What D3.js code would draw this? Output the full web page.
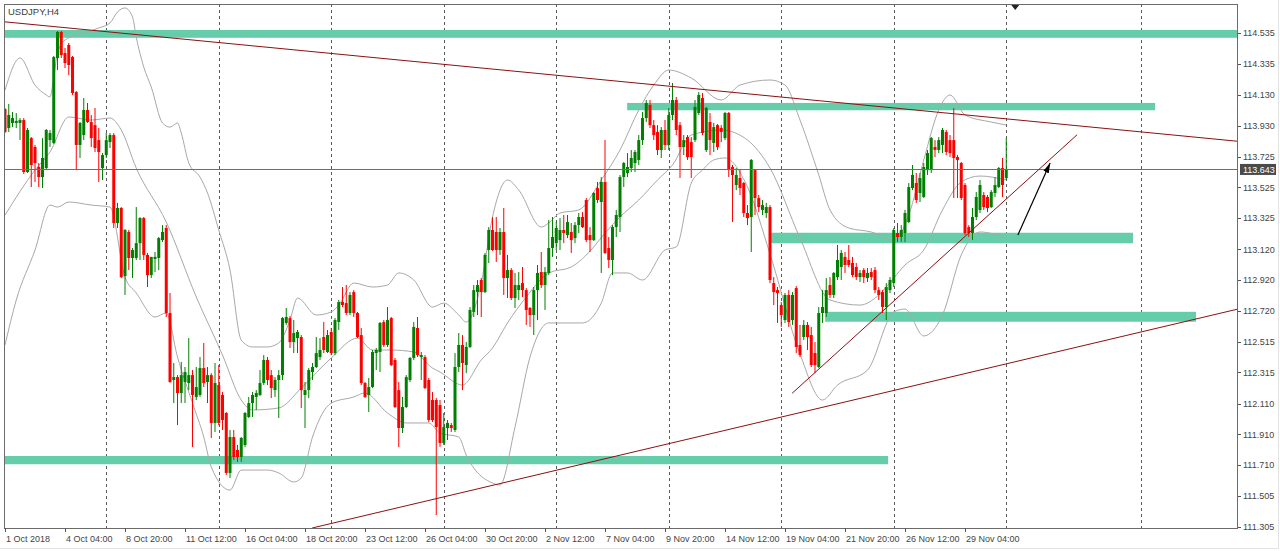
<!DOCTYPE html>
<html><head><meta charset="utf-8">
<script src="https://cdn.jsdelivr.net/npm/d3@7"></script>
<style>
html,body{margin:0;padding:0;background:#fff;}
svg{display:block;}
text{font-family:"Liberation Sans",Arial,sans-serif;}
</style></head><body>
<svg id="chart" width="1280" height="551"></svg>
<script>
// ---------------- DATA ----------------
const chartTitle = "USDJPY,H4";
// H4 bars, [open, high, low, close]
const ohlc = [
[114.038,114.045,113.881,113.888],[113.914,114.071,113.888,113.999],[113.947,114.019,113.920,113.979],[113.947,114.012,113.914,113.960],
[113.947,113.979,113.835,113.966],[113.966,113.979,113.613,113.626],[113.626,113.914,113.620,113.901],[113.848,113.855,113.528,113.672],
[113.790,113.803,113.561,113.685],[113.659,113.685,113.528,113.593],[113.593,113.848,113.521,113.718],[113.652,113.907,113.639,113.901],
[113.835,113.901,113.790,113.881],[113.816,114.385,113.810,114.378],[114.372,114.548,114.293,114.542],[114.542,114.548,114.372,114.391],
[114.404,114.437,114.306,114.339],[114.457,114.470,114.260,114.326],[114.378,114.385,114.130,114.143],[114.149,114.156,113.639,113.803],
[113.803,113.953,113.718,113.947],[113.868,114.110,113.835,114.032],[114.032,114.078,113.947,113.953],[113.953,113.999,113.790,113.848],
[113.933,114.045,113.757,113.783],[113.835,113.914,113.561,113.757],[113.652,113.750,113.574,113.737],[113.737,113.881,113.718,113.835],
[113.822,113.881,113.783,113.868],[113.868,113.881,113.260,113.293],[113.293,113.424,113.260,113.391],[113.391,113.397,112.932,112.939],
[112.946,113.253,112.822,113.247],[113.234,113.247,112.985,113.064],[113.064,113.129,112.933,113.116],[113.064,113.397,113.051,113.161],
[113.161,113.331,113.051,113.325],[113.325,113.332,113.051,113.084],[113.084,113.097,112.874,112.952],[112.952,113.071,112.933,113.071],
[113.058,113.103,112.972,113.071],[113.064,113.201,112.985,113.194],[113.181,113.279,113.168,113.234],[113.260,113.279,112.678,112.704],
[112.704,112.835,112.247,112.253],[112.266,112.377,112.115,112.285],[112.285,112.298,111.971,112.181],[112.181,112.384,112.115,112.298],
[112.253,112.351,112.115,112.318],[112.246,112.540,112.200,112.298],[112.298,112.331,111.828,112.168],[112.155,112.351,112.135,112.220],
[112.168,112.416,112.155,112.344],[112.344,112.508,112.220,112.246],[112.253,112.351,112.115,112.298],[112.298,112.311,111.887,111.985],
[111.985,112.377,111.926,112.246],[112.233,112.364,111.971,111.985],[112.168,112.187,111.939,112.004],[112.050,112.056,111.645,111.658],
[111.658,111.939,111.625,111.893],[111.893,111.939,111.743,111.762],[111.808,111.841,111.730,111.762],[111.762,111.893,111.730,111.887],
[111.841,112.057,111.828,112.050],[112.024,112.155,112.017,112.115],[112.115,112.187,112.024,112.168],[112.155,112.200,112.070,112.181],
[112.168,112.331,112.161,112.246],[112.246,112.429,112.233,112.397],[112.397,112.416,112.233,112.266],[112.298,112.331,112.148,112.213],
[112.200,112.285,112.155,112.266],[112.266,112.331,112.017,112.298],[112.298,112.678,112.266,112.671],[112.639,112.737,112.626,112.678],
[112.671,112.684,112.475,112.514],[112.514,112.658,112.442,112.573],[112.540,112.593,112.442,112.580],[112.547,112.560,112.083,112.200],
[112.168,112.253,111.952,112.200],[112.200,112.344,112.148,112.331],[112.318,112.377,112.266,112.351],[112.351,112.547,112.344,112.442],
[112.416,112.540,112.397,112.462],[112.547,112.645,112.442,112.462],[112.449,112.593,112.442,112.560],[112.580,112.606,112.429,112.442],
[112.442,112.671,112.429,112.658],[112.645,112.789,112.593,112.776],[112.776,112.874,112.743,112.756],[112.769,112.887,112.691,112.704],
[112.704,112.841,112.691,112.822],[112.841,112.854,112.678,112.704],[112.704,112.711,112.540,112.547],[112.560,112.606,112.233,112.246],
[112.246,112.253,112.148,112.155],[112.168,112.279,112.057,112.220],[112.220,112.462,112.213,112.449],[112.442,112.475,112.331,112.462],
[112.449,112.645,112.318,112.639],[112.645,112.658,112.482,112.495],[112.495,112.743,112.482,112.658],[112.671,112.678,112.357,112.364],
[112.397,112.410,112.083,112.089],[112.200,112.253,111.828,111.952],[111.952,112.155,111.919,112.089],[112.089,112.298,112.083,112.285],
[112.266,112.416,112.253,112.410],[112.410,112.645,112.397,112.613],[112.606,112.678,112.416,112.429],[112.416,112.449,112.266,112.429],
[112.416,112.429,112.207,112.213],[112.266,112.279,111.991,112.004],[112.135,112.187,111.991,112.004],[112.135,112.148,111.383,111.958],
[112.102,112.135,111.828,111.854],[111.854,112.050,111.841,111.958],[111.952,112.004,111.873,111.985],[111.971,111.985,111.926,111.952],
[111.939,112.442,111.926,112.351],[112.351,112.573,112.318,112.495],[112.495,112.560,112.200,112.377],[112.364,112.514,112.311,112.482],
[112.482,112.743,112.475,112.724],[112.711,112.887,112.678,112.854],[112.841,112.920,112.691,112.887],[112.920,112.933,112.678,112.841],
[112.841,113.097,112.835,113.084],[113.116,113.266,113.031,113.247],[113.247,113.332,113.110,113.116],[113.234,113.332,113.038,113.116],
[113.116,113.260,113.084,113.234],[113.234,113.391,112.822,112.933],[112.933,113.084,112.802,112.985],[112.985,112.998,112.789,112.802],
[112.802,112.966,112.737,112.887],[112.854,112.972,112.789,112.887],[112.900,113.005,112.809,112.854],[112.854,112.867,112.626,112.724],
[112.737,112.743,112.613,112.691],[112.691,112.874,112.560,112.854],[112.854,113.018,112.658,112.966],[112.972,113.103,112.867,112.887],
[112.887,113.005,112.724,112.972],[112.966,113.312,112.952,113.129],[113.129,113.332,113.071,113.201],[113.161,113.299,113.116,113.260],
[113.181,113.325,113.116,113.247],[113.247,113.345,113.161,113.227],[113.214,113.345,113.194,113.299],[113.234,113.293,113.097,113.181],
[113.194,113.299,113.161,113.279],[113.279,113.358,113.227,113.332],[113.332,113.364,113.260,113.266],[113.443,113.456,113.168,113.181],
[113.214,113.266,113.103,113.181],[113.181,113.495,113.175,113.489],[113.521,113.561,113.424,113.443],[113.430,113.593,112.966,113.561],
[113.561,113.835,113.090,113.097],[113.129,113.201,112.998,113.051],[113.051,113.279,112.952,113.266],[113.266,113.378,113.201,113.345],
[113.332,113.607,113.234,113.593],[113.593,113.692,113.528,113.685],[113.620,113.750,113.593,113.659],[113.652,113.770,113.626,113.718],
[113.685,113.770,113.626,113.757],[113.705,113.868,113.672,113.835],[113.835,114.019,113.803,113.979],[113.979,114.097,113.953,114.078],
[114.065,114.097,113.914,113.933],[113.933,113.966,113.835,113.868],[113.888,113.933,113.737,113.770],[113.770,113.920,113.718,113.901],
[113.901,113.966,113.770,113.803],[113.803,114.045,113.770,113.999],[113.999,114.208,113.966,114.097],[114.097,114.117,113.868,113.901],
[113.933,113.953,113.587,113.790],[113.790,113.868,113.737,113.835],[113.855,113.868,113.705,113.724],[113.822,113.855,113.587,113.724],
[113.835,114.097,113.822,114.052],[114.012,114.149,113.999,114.130],[114.110,114.143,113.868,113.881],[113.770,114.052,113.757,114.045],
[113.953,114.012,113.737,113.835],[113.816,113.947,113.757,113.920],[113.933,113.940,113.770,113.790],[113.914,113.933,113.822,113.888],
[113.848,114.019,113.835,114.012],[114.012,114.019,113.593,113.639],[113.659,113.672,113.299,113.607],[113.541,113.652,113.508,113.607],
[113.587,113.639,113.476,113.521],[113.554,113.561,113.332,113.358],[113.358,113.410,113.279,113.325],[113.332,113.711,113.103,113.705],
[113.639,113.646,113.345,113.456],[113.456,113.476,113.364,113.397],[113.378,113.443,113.345,113.410],[113.358,113.424,113.325,113.397],
[113.397,113.410,112.900,112.920],[112.900,112.939,112.756,112.841],[112.854,112.874,112.639,112.835],[112.756,112.776,112.613,112.691],
[112.658,112.835,112.639,112.822],[112.822,112.854,112.613,112.645],[112.658,112.841,112.626,112.822],[112.867,112.880,112.442,112.482],
[112.495,112.626,112.416,112.429],[112.547,112.658,112.527,112.626],[112.626,112.645,112.462,112.547],[112.560,112.613,112.351,112.364],
[112.442,112.514,112.311,112.364],[112.351,112.743,112.344,112.704],[112.704,112.854,112.639,112.743],[112.704,112.933,112.678,112.854],
[112.887,112.939,112.802,112.822],[112.822,112.972,112.802,112.966],[112.939,113.149,112.920,113.051],[113.005,113.116,112.920,113.097],
[113.071,113.103,112.966,113.018],[113.051,113.149,113.005,113.018],[113.031,113.071,112.939,112.952],[113.005,113.031,112.920,112.939],
[112.939,112.985,112.907,112.966],[112.985,112.998,112.900,112.939],[112.933,112.998,112.907,112.966],[112.972,112.998,112.920,112.939],
[112.985,113.005,112.835,112.854],[112.854,112.874,112.789,112.822],[112.841,112.854,112.704,112.743],[112.743,112.900,112.658,112.874],
[112.854,112.939,112.835,112.920],[112.900,113.260,112.874,113.247],[113.227,113.293,113.168,113.201],[113.201,113.279,113.168,113.247],
[113.227,113.378,113.168,113.358],[113.299,113.554,113.293,113.528],[113.521,113.672,113.508,113.607],[113.554,113.620,113.424,113.443],
[113.489,113.620,113.430,113.587],[113.463,113.685,113.456,113.659],[113.639,113.770,113.607,113.750],[113.639,113.855,113.620,113.848],
[113.790,113.835,113.724,113.770],[113.770,113.855,113.750,113.835],[113.803,113.914,113.750,113.901],[113.888,113.901,113.737,113.757],
[113.835,113.868,113.724,113.750],[113.835,114.045,113.456,113.718],[113.724,113.737,113.456,113.705],[113.685,113.692,113.443,113.456],
[113.541,113.554,113.214,113.227],[113.266,113.279,113.201,113.227],[113.227,113.391,113.181,113.332],[113.332,113.495,113.312,113.463],
[113.378,113.574,113.358,113.541],[113.476,113.495,113.378,113.397],[113.463,113.476,113.364,113.391],[113.397,113.508,113.391,113.495],
[113.489,113.593,113.463,113.541],[113.528,113.659,113.521,113.652],[113.652,113.718,113.463,113.541],[113.587,113.848,113.574,113.643]
];
const lastPrice = 113.643;

// Bollinger bands (20, 2): [bar index, price]
const bbUpper = [[0,114.162],[4,114.372],[8,114.195],[11,114.130],[12,114.117],[13,114.247],[14,114.404],[16,114.489],[21,114.535],[25,114.568],[28,114.601],[30,114.673],[32,114.699],[34,114.640],[35,114.509],[37,114.313],[39,114.182],[42,113.947],[44,113.920],[46,113.947],[47,113.881],[49,113.685],[52,113.593],[54,113.489],[57,113.247],[60,112.985],[63,112.527],[66,112.482],[70,112.482],[73,112.508],[76,112.658],[78,112.802],[83,112.691],[87,112.711],[89,112.756],[93,112.900],[98,112.874],[102,112.887],[105,112.966],[109,112.920],[114,112.743],[117,112.769],[121,112.691],[123,112.645],[127,112.900],[130,113.332],[134,113.574],[137,113.508],[143,113.266],[145,113.293],[148,113.358],[153,113.378],[159,113.574],[164,113.770],[169,114.032],[173,114.195],[177,114.293],[183,114.241],[191,114.097],[196,114.195],[204,114.228],[208,114.195],[212,113.966],[217,113.607],[220,113.378],[225,113.260],[231,113.234],[237,113.181],[241,113.345],[245,113.705],[249,114.032],[252,114.130],[256,113.999],[263,113.953],[267,113.933]];
const bbMiddle = [[0,113.345],[8,113.639],[12,113.757],[17,113.986],[23,113.966],[28,113.979],[31,113.901],[35,113.652],[43,113.299],[51,112.809],[58,112.429],[63,112.135],[66,112.070],[73,112.083],[79,112.213],[87,112.410],[94,112.540],[98,112.462],[103,112.462],[109,112.449],[114,112.344],[116,112.318],[122,112.233],[127,112.397],[130,112.475],[134,112.639],[139,112.809],[145,112.966],[151,113.005],[157,113.136],[160,113.227],[164,113.332],[169,113.443],[174,113.574],[178,113.672],[183,113.868],[191,113.901],[198,113.835],[204,113.652],[212,113.194],[220,112.789],[228,112.756],[233,112.822],[237,112.933],[240,113.018],[245,113.116],[250,113.378],[255,113.561],[260,113.600],[267,113.574]];
const bbLower = [[0,112.495],[3,112.789],[8,113.116],[12,113.410],[14,113.397],[17,113.430],[23,113.410],[28,113.397],[32,112.939],[35,112.835],[40,112.678],[43,112.704],[46,112.416],[50,112.115],[53,111.893],[55,111.697],[60,111.546],[63,111.677],[70,111.677],[73,111.658],[77,111.599],[79,111.625],[82,111.893],[87,112.115],[93,112.155],[96,112.181],[102,112.050],[107,111.985],[113,111.985],[116,111.919],[121,111.893],[123,111.775],[130,111.592],[132,111.579],[136,111.958],[140,112.416],[145,112.639],[154,112.639],[159,112.769],[162,112.966],[166,112.966],[170,112.920],[176,113.116],[179,113.136],[183,113.554],[186,113.639],[189,113.705],[192,113.718],[198,113.528],[204,113.090],[212,112.436],[218,112.135],[222,112.233],[230,112.331],[237,112.711],[240,112.730],[245,112.554],[250,112.691],[255,113.084],[260,113.234],[267,113.194]];

// Support / resistance zones: [start bar, end bar, upper price, lower price]
const zones = [
  [-0.3, 329, 114.555, 114.504],
  [165.9, 306.7, 114.078, 114.030],
  [204.0, 300.8, 113.229, 113.160],
  [218.7, 317.6, 112.712, 112.647],
  [-0.3, 235.5, 111.769, 111.715]
];
// Trend lines: [[bar, price], [bar, price]]
const trendLines = [
  [[-0.3, 114.609], [328.8, 113.827]],
  [[81.9, 111.298], [328.8, 112.730]],
  [[209.9, 112.179], [285.9, 113.870]]
];
const arrowLine = [[270.1, 113.214], [278.7, 113.685]];

// Axes
const weekStartBars = [27, 57, 87, 117, 147, 177, 207, 237, 267, 303];
const dateTickBars = [0, 16, 32, 48, 64, 80, 96, 112, 128, 144, 160, 176, 192, 208, 224, 240, 256];
const dateTickLabels = ["1 Oct 2018","4 Oct 04:00","8 Oct 20:00","11 Oct 12:00","16 Oct 04:00","18 Oct 20:00","23 Oct 12:00","26 Oct 04:00","30 Oct 20:00","2 Nov 12:00","7 Nov 04:00","9 Nov 20:00","14 Nov 12:00","19 Nov 04:00","21 Nov 20:00","26 Nov 12:00","29 Nov 04:00"];
const priceTicks = [114.535,114.335,114.130,113.930,113.725,113.525,113.325,113.120,112.920,112.720,112.515,112.315,112.110,111.910,111.710,111.505,111.305];
const shiftMarkerBar = 269.4;

// ---------------- DRAW ----------------
const W = 1280, H = 551;
const plot = {left: 4, right: 1238, top: 4, bottom: 528};
const x = d3.scaleLinear().domain([-0.27, 328.8]).range([plot.left, plot.right]);
const y = d3.scaleLinear().domain([111.298, 114.725]).range([plot.bottom, plot.top]);

const svg = d3.select("#chart");
svg.append("rect").attr("width", W).attr("height", H).attr("fill", "#fff");

const defs = svg.append("defs");
defs.append("clipPath").attr("id", "plotClip").append("rect")
  .attr("x", plot.left).attr("y", plot.top)
  .attr("width", plot.right - plot.left).attr("height", plot.bottom - plot.top);
defs.append("marker").attr("id", "arrowHead")
  .attr("viewBox", "0 0 10 6").attr("refX", 10).attr("refY", 3)
  .attr("markerWidth", 10).attr("markerHeight", 6).attr("markerUnits", "userSpaceOnUse")
  .attr("orient", "auto")
  .append("path").attr("d", "M0,0 L10,3 L0,6 Z").attr("fill", "#000");

// outer window edges
svg.append("line").attr("x1", 1278.5).attr("x2", 1278.5).attr("y1", 0).attr("y2", 548).attr("stroke", "#e3e3e3");
svg.append("line").attr("x1", 0).attr("x2", 1279).attr("y1", 548.5).attr("y2", 548.5).attr("stroke", "#e3e3e3");

const g = svg.append("g").attr("clip-path", "url(#plotClip)");

// weekly dashed grid
g.selectAll("line.grid").data(weekStartBars).join("line")
  .attr("class", "grid")
  .attr("x1", d => Math.round(x(d)) + 0.5).attr("x2", d => Math.round(x(d)) + 0.5)
  .attr("y1", plot.top).attr("y2", plot.bottom)
  .attr("stroke", "#5a5a5a").attr("stroke-dasharray", "3,3").attr("stroke-width", 1);

// zones
g.selectAll("rect.zone").data(zones).join("rect")
  .attr("class", "zone")
  .attr("x", d => x(d[0])).attr("width", d => x(d[1]) - x(d[0]))
  .attr("y", d => y(d[2])).attr("height", d => y(d[3]) - y(d[2]))
  .attr("fill", "#66cdaa");

// Bollinger bands
const bandLine = d3.line().x(d => x(d[0])).y(d => y(d[1])).curve(d3.curveMonotoneX);
[bbUpper, bbMiddle, bbLower].forEach(b => {
  g.append("path").attr("d", bandLine(b)).attr("fill", "none")
    .attr("stroke", "#a8a8a8").attr("stroke-width", 1);
});

// candles
const bull = "#008000", bear = "#ff0000";
const cg = g.selectAll("g.candle").data(ohlc).join("g").attr("class", "candle");
cg.append("line")
  .attr("x1", (d, i) => x(i)).attr("x2", (d, i) => x(i))
  .attr("y1", d => y(d[1])).attr("y2", d => y(d[2]))
  .attr("stroke", d => d[3] >= d[0] ? bull : bear).attr("stroke-width", 1);
cg.append("rect")
  .attr("x", (d, i) => x(i) - 1.5).attr("width", 3)
  .attr("y", d => y(Math.max(d[0], d[3])))
  .attr("height", d => Math.max(1, Math.abs(y(d[0]) - y(d[3]))))
  .attr("fill", d => d[3] >= d[0] ? bull : bear);

// last price line
g.append("line").attr("x1", plot.left).attr("x2", plot.right)
  .attr("y1", Math.round(y(lastPrice)) + 0.5).attr("y2", Math.round(y(lastPrice)) + 0.5)
  .attr("stroke", "#6e6e6e").attr("stroke-width", 1);

// trend lines
g.selectAll("line.trend").data(trendLines).join("line")
  .attr("class", "trend")
  .attr("x1", d => x(d[0][0])).attr("y1", d => y(d[0][1]))
  .attr("x2", d => x(d[1][0])).attr("y2", d => y(d[1][1]))
  .attr("stroke", "#8b1010").attr("stroke-width", 1);

// arrow
g.append("line")
  .attr("x1", x(arrowLine[0][0])).attr("y1", y(arrowLine[0][1]))
  .attr("x2", x(arrowLine[1][0])).attr("y2", y(arrowLine[1][1]))
  .attr("stroke", "#000").attr("stroke-width", 1.2).attr("marker-end", "url(#arrowHead)");

// frame
svg.append("rect").attr("x", plot.left + 0.5).attr("y", plot.top + 0.5)
  .attr("width", plot.right - plot.left - 1).attr("height", plot.bottom - plot.top)
  .attr("fill", "none").attr("stroke", "#6b6b6b");

// chart shift marker
const sx = x(shiftMarkerBar);
svg.append("path").attr("d", `M${sx - 4},${plot.top + 1} L${sx + 4},${plot.top + 1} L${sx},${plot.top + 6} Z`).attr("fill", "#222");

// title
svg.append("text").attr("x", 8).attr("y", 15).attr("font-size", 9.5).attr("fill", "#3c3c3c").text(chartTitle);

// right price axis
const ra = svg.append("g");
ra.selectAll("line").data(priceTicks).join("line")
  .attr("x1", plot.right).attr("x2", plot.right + 3)
  .attr("y1", d => Math.round(y(d)) + 0.5).attr("y2", d => Math.round(y(d)) + 0.5)
  .attr("stroke", "#555");
ra.selectAll("text").data(priceTicks).join("text")
  .attr("x", plot.right + 5).attr("y", d => y(d)).attr("dy", "0.35em")
  .attr("font-size", 9).attr("fill", "#444").text(d => d.toFixed(3));

// last price tag
const ly = y(lastPrice);
svg.append("rect").attr("x", plot.right + 2).attr("y", ly - 5.5).attr("width", 36).attr("height", 11).attr("fill", "#4a4a4a");
svg.append("text").attr("x", plot.right + 5).attr("y", ly).attr("dy", "0.35em")
  .attr("font-size", 9).attr("fill", "#fff").text(lastPrice.toFixed(3));

// bottom time axis
const ba = svg.append("g");
ba.selectAll("line").data(dateTickBars).join("line")
  .attr("x1", d => Math.round(x(d)) + 0.5).attr("x2", d => Math.round(x(d)) + 0.5)
  .attr("y1", plot.bottom).attr("y2", plot.bottom + 4).attr("stroke", "#555");
ba.selectAll("text").data(dateTickBars).join("text")
  .attr("x", d => Math.max(plot.left, x(d) + 1)).attr("y", 542)
  .attr("font-size", 9).attr("fill", "#444")
  .text((d, i) => dateTickLabels[i]);
</script>
</body></html>
